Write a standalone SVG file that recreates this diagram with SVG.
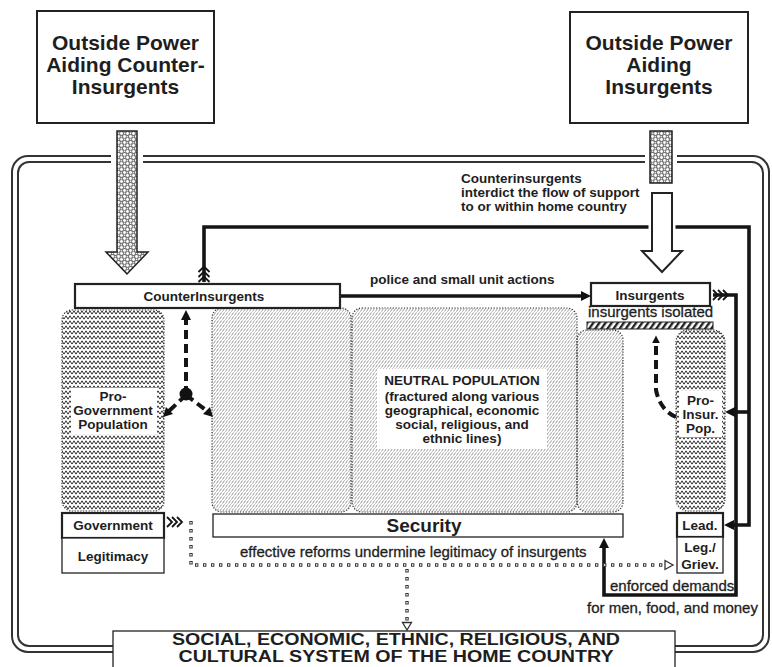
<svg xmlns="http://www.w3.org/2000/svg" width="772" height="667" viewBox="0 0 772 667">
<style>
text{font-family:"Liberation Sans",Arial,Helvetica,sans-serif;fill:#1e1e1e}
.ttl{font-size:21px;font-weight:bold;text-anchor:middle}
.lbl{font-size:13.5px;font-weight:bold;text-anchor:middle}
.cl{font-size:13.5px;font-weight:bold}
.lt{font-size:15px;stroke:#1e1e1e;stroke-width:0.3}
.big{font-size:16px;font-weight:bold;text-anchor:middle}
.box{fill:#fff;stroke:#222;stroke-width:1.3}
.boxb{fill:#fff;stroke:#222;stroke-width:2.2}
.frame{fill:none;stroke:#333;stroke-width:2}
.thick{fill:none;stroke:#151515;stroke-width:3.6}
.dash{fill:none;stroke:#151515;stroke-width:4;stroke-dasharray:9 5}
.reg{stroke:#333;stroke-width:1.2;stroke-dasharray:1.2 1.6}
.sq{fill:none;stroke:#3a3a3a;stroke-width:3.4;stroke-dasharray:3.4 4.6}
.sqi{fill:none;stroke:#fff;stroke-width:1.4;stroke-dasharray:1.4 6.6;stroke-dashoffset:-1}
.feat{fill:none;stroke:#151515;stroke-width:1.8}
</style>
<defs>
<pattern id="zig" width="8" height="5" patternUnits="userSpaceOnUse">
<path d="M0,4.2 L2,0.8 L4,4.2 L6,0.8 L8,4.2" fill="none" stroke="#333" stroke-width="1"/>
</pattern>
<pattern id="hatch" width="3" height="4" patternUnits="userSpaceOnUse">
<path d="M0.5,3.6 L2.5,0.4" stroke="#777" stroke-width="0.75"/>
</pattern>
<pattern id="stip" width="6" height="6" patternUnits="userSpaceOnUse">
<rect width="6" height="6" fill="#777"/>
<circle cx="1.5" cy="1.5" r="1.4" fill="#fff"/>
<circle cx="4.5" cy="4.5" r="1.4" fill="#fff"/>
<circle cx="4.6" cy="1.2" r="0.8" fill="#fff"/>
<circle cx="1.3" cy="4.7" r="0.7" fill="#fff"/>
</pattern>
<pattern id="barh" width="5" height="10" patternUnits="userSpaceOnUse" patternTransform="rotate(35)">
<rect width="2.4" height="10" fill="#222"/>
</pattern>
<marker id="ah" viewBox="0 0 10 10" refX="3" refY="5" markerWidth="10" markerHeight="10" markerUnits="userSpaceOnUse" orient="auto">
<path d="M0,0 L10,5 L0,10 z" fill="#111"/>
</marker>
<marker id="ahs" viewBox="0 0 10 10" refX="3" refY="5" markerWidth="8" markerHeight="8" markerUnits="userSpaceOnUse" orient="auto">
<path d="M0,0 L10,5 L0,10 z" fill="#111"/>
</marker>
</defs>

<rect width="772" height="667" fill="#fff"/>

<g id="frame">
<rect class="frame" x="12" y="156" width="757" height="496" rx="16"/>
<rect class="frame" x="18" y="162" width="745" height="484" rx="11"/>
<rect x="111" y="150" width="32" height="18" fill="#fff"/>
<rect x="645" y="150" width="32" height="18" fill="#fff"/>
</g>

<g id="outside-power-ci">
<rect x="37" y="11" width="177" height="112" fill="#fff" stroke="#222" stroke-width="2"/>
<text class="ttl" x="125.5" y="50">Outside Power</text>
<text class="ttl" x="125.5" y="72">Aiding Counter-</text>
<text class="ttl" x="125.5" y="94">Insurgents</text>
</g>
<g id="outside-power-ins">
<rect x="570" y="12" width="178" height="111" fill="#fff" stroke="#222" stroke-width="2"/>
<text class="ttl" x="659" y="50">Outside Power</text>
<text class="ttl" x="659" y="72">Aiding</text>
<text class="ttl" x="659" y="94">Insurgents</text>
</g>

<g id="pro-gov-pop">
<rect class="reg" x="62" y="310" width="102" height="201" rx="10" fill="url(#zig)"/>
<rect x="71" y="388" width="86" height="46" fill="#fff"/>
<text class="lbl" x="113" y="401">Pro-</text>
<text class="lbl" x="113" y="415">Government</text>
<text class="lbl" x="113" y="429">Population</text>
</g>
<g id="neutral-pop">
<rect class="reg" x="212" y="308" width="139" height="204" rx="10" fill="url(#hatch)"/>
<rect class="reg" x="352" y="308" width="225" height="204" rx="10" fill="url(#hatch)"/>
<rect class="reg" x="577" y="330" width="46" height="182" rx="10" fill="url(#hatch)"/>
<rect x="377" y="369" width="170" height="80" fill="#fff"/>
<text class="lbl" x="462" y="385">NEUTRAL POPULATION</text>
<text class="lbl" x="462" y="401">(fractured along various</text>
<text class="lbl" x="462" y="415">geographical, economic</text>
<text class="lbl" x="462" y="429">social, religious, and</text>
<text class="lbl" x="462" y="443">ethnic lines)</text>
</g>
<g id="pro-insur-pop">
<rect class="reg" x="676" y="330" width="49" height="181" rx="12" fill="url(#zig)"/>
<rect x="679" y="391" width="43" height="46" fill="#fff"/>
<text class="lbl" x="700.5" y="405">Pro-</text>
<text class="lbl" x="700.5" y="419">Insur.</text>
<text class="lbl" x="700.5" y="433">Pop.</text>
</g>

<g id="connectors">
<path d="M117,131 H137 V252 H148 L127,274 L106,252 H117 Z" fill="url(#stip)" stroke="#222" stroke-width="1.5"/>
<rect x="650" y="131" width="22" height="52" fill="url(#stip)" stroke="#222" stroke-width="1.5"/>

<path class="thick" d="M204,282 V227 H749 V525 H731" marker-end="url(#ah)"/>
<path class="thick" d="M749,412 H732" marker-end="url(#ah)"/>
<path class="feat" d="M198.5,272 L204,266.5 L209.5,272 M198.5,277 L204,271.5 L209.5,277 M198.5,282 L204,276.5 L209.5,282"/>

<path d="M652,193 H672 V251 H682 L662,272 L642,251 H652 Z" fill="none" stroke="#fff" stroke-width="7"/>
<path d="M652,193 H672 V251 H682 L662,272 L642,251 H652 Z" fill="#fff" stroke="#222" stroke-width="2"/>

<path class="thick" d="M340,296 H584" marker-end="url(#ah)"/>

<path class="thick" d="M713,295 H736 V595 H604 V545" marker-end="url(#ah)"/>
<path class="feat" d="M713,290 L718,295 L713,300 M718,290 L723,295 L718,300 M723,290 L728,295 L723,300"/>

<path class="dash" d="M186,395 V317" marker-end="url(#ah)"/>
<path class="dash" d="M186,395 L169,411"/>
<path class="dash" d="M186,395 L207,411"/>
<path d="M163,417 L166,407 L173,414 z" fill="#111"/>
<path d="M213,417 L203,414 L210,407 z" fill="#111"/>
<circle cx="186" cy="394" r="6.5" fill="#111"/>

<path class="dash" d="M676,417 Q660,410 656,390 V341" marker-end="url(#ahs)"/>

<path class="feat" d="M167,517 L172,522 L167,527 M172,517 L177,522 L172,527 M177,517 L182,522 L177,527"/>
<path class="sq" d="M191,521 V565 H664"/>
<path class="sqi" d="M191,521 V565 H664"/>
<path class="sq" d="M407,569 V621"/>
<path class="sqi" d="M407,569 V621"/>
<path d="M665,560.5 L673,565 L665,569.5 z" fill="#fff" stroke="#333" stroke-width="1.3"/>
<path d="M402.5,622.5 L411.5,622.5 L407,630 z" fill="#fff" stroke="#333" stroke-width="1.3"/>
</g>

<g id="counterinsurgents">
<rect class="boxb" x="75" y="284" width="265" height="24"/>
<text class="lbl" x="204" y="301">CounterInsurgents</text>
</g>
<g id="insurgents">
<rect class="boxb" x="591" y="283" width="119" height="23"/>
<text class="lbl" x="650" y="300">Insurgents</text>
</g>
<g id="isolation">
<text class="lt" x="588" y="317">insurgents isolated</text>
<rect x="587" y="322" width="126" height="7" fill="url(#barh)" stroke="#222" stroke-width="1"/>
</g>
<g id="government">
<rect class="boxb" x="62" y="513" width="102" height="25"/>
<text class="lbl" x="113" y="530">Government</text>
</g>
<g id="legitimacy">
<rect class="box" x="62" y="538" width="102" height="35"/>
<text class="lbl" x="113" y="561">Legitimacy</text>
</g>
<g id="security">
<rect class="box" x="213" y="514" width="410" height="23"/>
<text x="424" y="532" style="font-size:19px;font-weight:bold;text-anchor:middle">Security</text>
</g>
<g id="leadership">
<rect class="boxb" x="677" y="513" width="46" height="24"/>
<text class="lbl" x="700" y="530">Lead.</text>
</g>
<g id="leg-griev">
<rect class="box" x="677" y="537" width="46" height="36"/>
<text class="lbl" x="700" y="552">Leg./</text>
<text class="lbl" x="700" y="569">Griev.</text>
</g>
<g id="home-country">
<rect class="box" x="113" y="631" width="562" height="45"/>
<text class="big" x="396" y="645" textLength="448" lengthAdjust="spacingAndGlyphs">SOCIAL, ECONOMIC, ETHNIC, RELIGIOUS, AND</text>
<text class="big" x="396" y="662" textLength="435" lengthAdjust="spacingAndGlyphs">CULTURAL SYSTEM OF THE HOME COUNTRY</text>
</g>

<g id="labels">
<text class="cl" x="461" y="183">Counterinsurgents</text>
<text class="cl" x="461" y="197">interdict the flow of support</text>
<text class="cl" x="461" y="211">to or within home country</text>
<text class="cl" x="370" y="284">police and small unit actions</text>
<text class="lt" x="240" y="557">effective reforms undermine legitimacy of insurgents</text>
<text class="lt" x="610" y="591">enforced demands</text>
<text class="lt" x="587" y="613">for men, food, and money</text>
</g>
</svg>
